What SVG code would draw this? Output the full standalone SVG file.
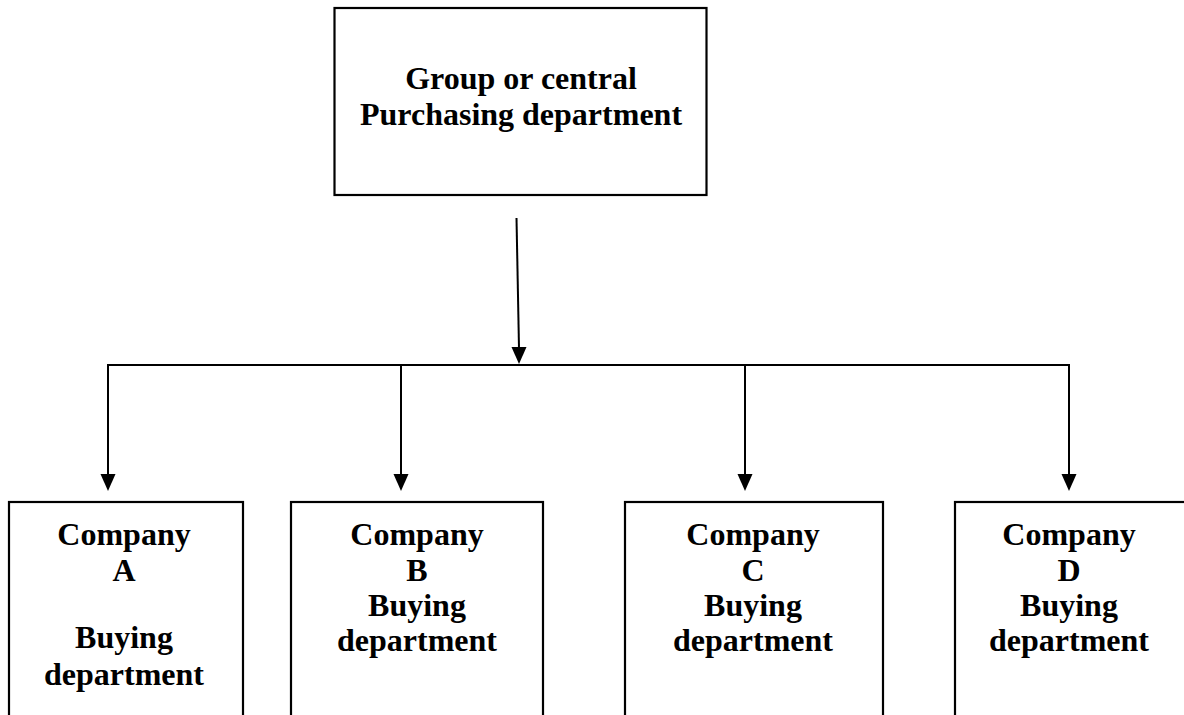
<svg xmlns="http://www.w3.org/2000/svg" width="1184" height="715" viewBox="0 0 1184 715">
<style>
.box{fill:#fff;stroke:#000;stroke-width:2.2}
.t{font-family:"Liberation Serif","Times New Roman",serif;font-weight:bold;font-size:32px;fill:#000;text-anchor:middle}
.c{fill:none;stroke:#000;stroke-width:2}
</style>
<rect width="1184" height="715" fill="#fff"/>
<g id="central">
<rect class="box" x="334.5" y="8" width="372" height="187"/>
<text class="t" x="521" y="89">Group or central</text>
<text class="t" x="521" y="125">Purchasing department</text>
</g>
<g id="connectors">
<line class="c" x1="516.5" y1="218" x2="519" y2="348"/>
<path d="M511.5,347 L526.5,347 L519,364 Z" fill="#000"/>
<line class="c" x1="107" y1="365" x2="1070" y2="365"/>
<line class="c" x1="108" y1="364" x2="108" y2="476"/>
<path d="M100.5,474 L115.5,474 L108,491 Z" fill="#000"/>
<line class="c" x1="401" y1="364" x2="401" y2="476"/>
<path d="M393.5,474 L408.5,474 L401,491 Z" fill="#000"/>
<line class="c" x1="745" y1="364" x2="745" y2="476"/>
<path d="M737.5,474 L752.5,474 L745,491 Z" fill="#000"/>
<line class="c" x1="1069" y1="364" x2="1069" y2="476"/>
<path d="M1061.5,474 L1076.5,474 L1069,491 Z" fill="#000"/>
</g>
<g id="companyA">
<rect class="box" x="9" y="502" width="234" height="230"/>
<text class="t" x="124" y="545">Company</text>
<text class="t" x="124" y="581">A</text>
<text class="t" x="124" y="648">Buying</text>
<text class="t" x="124" y="685">department</text>
</g>
<g id="companyB">
<rect class="box" x="291" y="502" width="252" height="230"/>
<text class="t" x="417" y="545">Company</text>
<text class="t" x="417" y="581">B</text>
<text class="t" x="417" y="616">Buying</text>
<text class="t" x="417" y="651">department</text>
</g>
<g id="companyC">
<rect class="box" x="625" y="502" width="258" height="230"/>
<text class="t" x="753" y="545">Company</text>
<text class="t" x="753" y="581">C</text>
<text class="t" x="753" y="616">Buying</text>
<text class="t" x="753" y="651">department</text>
</g>
<g id="companyD">
<rect class="box" x="955" y="502" width="240" height="230"/>
<text class="t" x="1069" y="545">Company</text>
<text class="t" x="1069" y="581">D</text>
<text class="t" x="1069" y="616">Buying</text>
<text class="t" x="1069" y="651">department</text>
</g>
</svg>
